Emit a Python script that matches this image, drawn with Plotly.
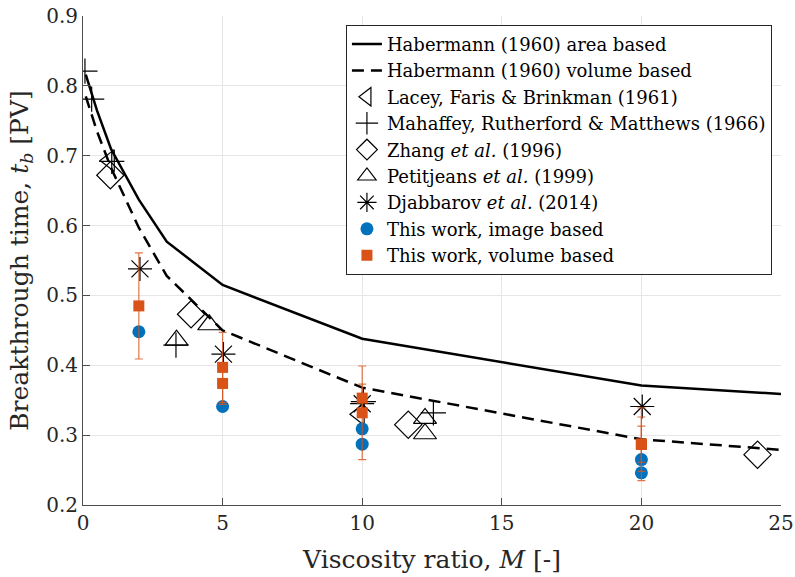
import plotly.graph_objects as go

# Habermann (1960) curves
hab_M = [0.1, 0.5, 1, 2, 3, 5, 10, 20, 25]
hab_area = [0.816, 0.765, 0.71, 0.637, 0.577, 0.515, 0.438, 0.371, 0.359]
hab_vol = [0.785, 0.735, 0.683, 0.597, 0.528, 0.450, 0.368, 0.294, 0.279]

# Literature data
lacey_M = [0.95, 9.9]
lacey_t = [0.693, 0.330]
mahaffey_M = [0.07, 0.31, 1.03, 3.33, 10.04, 12.55]
mahaffey_t = [0.821, 0.781, 0.692, 0.429, 0.348, 0.332]
zhang_M = [0.98, 3.87, 11.65, 24.16]
zhang_t = [0.672, 0.473, 0.315, 0.272]
petit_M = [3.35, 4.52, 12.25, 12.25]
petit_t = [0.436, 0.458, 0.324, 0.302]
djab_M = [2.04, 5.03, 10.0, 20.03]
djab_t = [0.538, 0.416, 0.345, 0.341]

# This work
img_M = [2, 5, 10, 10, 20, 20]
img_t = [0.448, 0.341, 0.309, 0.287, 0.265, 0.246]
vol_M = [2, 5, 5, 10, 10, 20, 20, 20]
vol_t = [0.485, 0.397, 0.374, 0.353, 0.332, 0.287, 0.287, 0.287]
vol_err = [0.076, 0.05, 0.03, 0.02, 0.067, 0.052, 0.026, 0.039]

FONT = "DejaVu Serif"
BLUE = "#0072BD"
ORANGE = "#D95319"

fig = go.Figure()
fig.add_trace(go.Scatter(x=hab_M, y=hab_area, mode="lines", name="Habermann (1960) area based",
                         line=dict(color="black", width=2.5)))
fig.add_trace(go.Scatter(x=hab_M, y=hab_vol, mode="lines", name="Habermann (1960) volume based",
                         line=dict(color="black", width=2.5, dash="12px,7px")))

def mk(sym, size):
    return dict(symbol=sym, size=size, color="black", line=dict(color="black", width=1.2))

fig.add_trace(go.Scatter(x=lacey_M, y=lacey_t, mode="markers", name="Lacey, Faris &amp; Brinkman (1961)",
                         marker=mk("triangle-left-open", 19)))
fig.add_trace(go.Scatter(x=mahaffey_M, y=mahaffey_t, mode="markers", name="Mahaffey, Rutherford &amp; Matthews (1966)",
                         marker=mk("cross-thin-open", 18)))
fig.add_trace(go.Scatter(x=zhang_M, y=zhang_t, mode="markers", name="Zhang <i>et al.</i> (1996)",
                         marker=mk("diamond-open", 21)))
fig.add_trace(go.Scatter(x=petit_M, y=petit_t, mode="markers", name="Petitjeans <i>et al.</i> (1999)",
                         marker=mk("triangle-up-open", 20)))
fig.add_trace(go.Scatter(x=djab_M, y=djab_t, mode="markers", name="Djabbarov <i>et al.</i> (2014)",
                         marker=mk("asterisk-open", 20)))
fig.add_trace(go.Scatter(x=img_M, y=img_t, mode="markers", name="This work, image based",
                         marker=dict(symbol="circle", size=13, color=BLUE, line=dict(width=0))))
fig.add_trace(go.Scatter(x=vol_M, y=vol_t, mode="markers", name="This work, volume based",
                         marker=dict(symbol="square", size=11, color=ORANGE, line=dict(width=0)),
                         error_y=dict(type="data", array=vol_err, visible=True,
                                      color="rgba(217,83,25,0.8)", thickness=1.2, width=4)))

axis_common = dict(
    showgrid=True, gridcolor="#e6e6e6", gridwidth=1,
    showline=True, linecolor="#4d4d4d", linewidth=1,
    ticks="inside", ticklen=7, tickcolor="#4d4d4d",
    zeroline=False, mirror=False, automargin=False,
    tickfont=dict(family=FONT, size=20, color="#262626"),
)

fig.update_layout(
    width=795, height=577,
    margin=dict(l=83, r=14, t=16, b=72, autoexpand=False),
    plot_bgcolor="white", paper_bgcolor="white",
    font=dict(family=FONT, color="#262626"),
    xaxis=dict(range=[0, 25], tickvals=[0, 5, 10, 15, 20, 25],
               title=dict(text="Viscosity ratio, <i>M</i> [-]", font=dict(family=FONT, size=25), standoff=16),
               **axis_common),
    yaxis=dict(range=[0.2, 0.9], tickvals=[0.2, 0.3, 0.4, 0.5, 0.6, 0.7, 0.8, 0.9], tickformat=".1f",
               title=dict(text="Breakthrough time, <i>t</i><sub><i>b</i></sub> [PV]", font=dict(family=FONT, size=25), standoff=10),
               **axis_common),
    legend=dict(x=0.987, y=0.982, xanchor="right", yanchor="top",
                bgcolor="white", bordercolor="#262626", borderwidth=1,
                font=dict(family=FONT, size=18, color="black"),
                itemwidth=30, tracegroupgap=0),
    showlegend=True,
)

fig.write_html("out.html")
